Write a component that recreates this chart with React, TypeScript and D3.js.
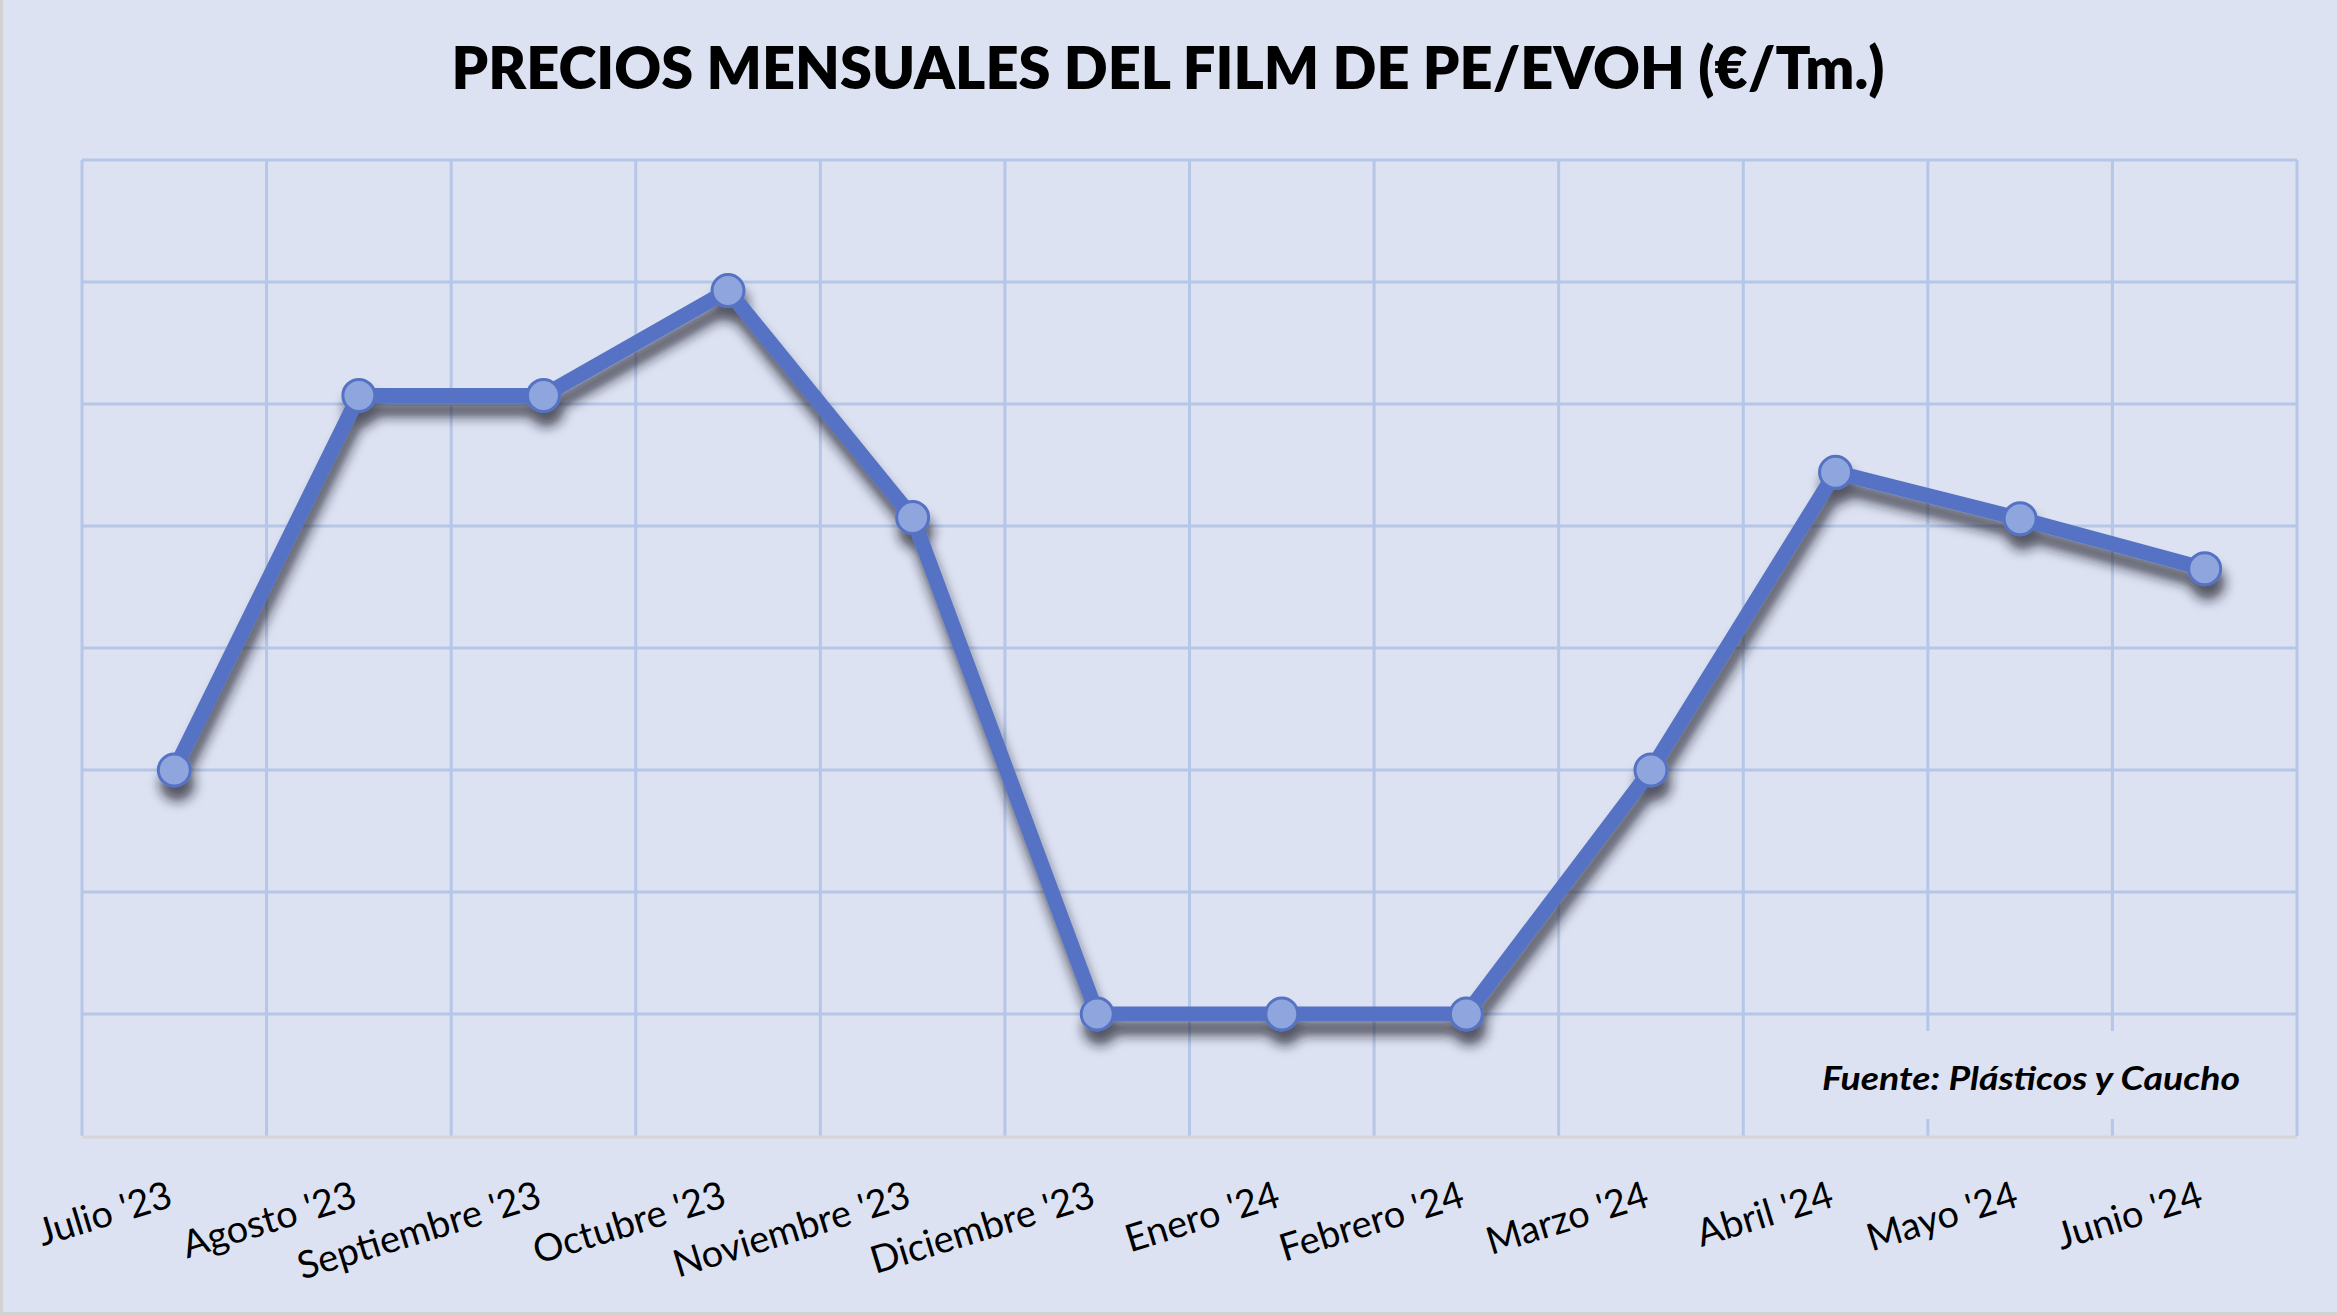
import React, { useEffect } from "react";
import * as d3 from "d3";

const categories = [
  "Julio '23", "Agosto '23", "Septiembre '23", "Octubre '23", "Noviembre '23", "Diciembre '23",
  "Enero '24", "Febrero '24", "Marzo '24", "Abril '24", "Mayo '24", "Junio '24",
];
const prices = [3.0, 6.07, 6.07, 6.93, 5.07, 1.0, 1.0, 1.0, 3.0, 5.44, 5.06, 4.65];
const yTicks = [1, 2, 3, 4, 5, 6, 7, 8];
const title = "PRECIOS MENSUALES DEL FILM DE PE/EVOH (€/Tm.)";
const source = "Fuente: Plásticos y Caucho";

const W = 2337;
const H = 1315;
const BG = "#dce2f2";
const GRID = "#b5c6e7";
const LINE = "#5572c4";
const MARK = "#8ea6dd";

export default function App() {
  useEffect(() => {
    document.body.style.margin = "0";
  }, []);

  const plot = { left: 82, right: 2297, top: 160, bottom: 1136 };
  const x = d3.scaleBand<string>().domain(categories).range([plot.left, plot.right]).padding(0);
  const y = d3.scaleLinear().domain([0, 8]).range([plot.bottom, plot.top]);
  const cx = (c: string) => (x(c) as number) + x.bandwidth() / 2;

  const line = d3
    .line<number>()
    .x((_, i) => cx(categories[i]))
    .y((d) => y(d));

  const vLines = categories.map((c) => x(c) as number).concat([plot.right]);

  return (
    <svg width={W} height={H} style={{ display: "block" }} xmlns="http://www.w3.org/2000/svg">
      <defs>
        <filter id="shadow" x="-20%" y="-20%" width="140%" height="140%">
          <feDropShadow dx="3" dy="14" stdDeviation="6" floodColor="#1a1d26" floodOpacity="0.7" />
        </filter>
      </defs>
      <rect x={0} y={0} width={W} height={H} fill={BG} />
      <line x1={1.5} y1={0} x2={1.5} y2={H} stroke="#d2d2d2" strokeWidth={3} />
      <line x1={0} y1={H - 1.5} x2={W} y2={H - 1.5} stroke="#d2d2d2" strokeWidth={3} />

      <text
        x={1168}
        y={89}
        textAnchor="middle"
        fontFamily="Lato, 'Open Sans', sans-serif"
        fontWeight={800}
        fontSize={58}
        fill="#000"
        textLength={1433}
        lengthAdjust="spacingAndGlyphs"
      >
        {title}
      </text>

      {/* grid */}
      {yTicks.map((t) => (
        <line key={"h" + t} x1={plot.left} x2={plot.right} y1={y(t)} y2={y(t)} stroke={GRID} strokeWidth={3} />
      ))}
      {vLines.map((vx, i) => (
        <line key={"v" + i} x1={vx} x2={vx} y1={plot.top} y2={plot.bottom} stroke={GRID} strokeWidth={3} />
      ))}
      <line x1={plot.left} x2={plot.right} y1={plot.bottom + 1} y2={plot.bottom + 1} stroke="#d6d6d6" strokeWidth={3} />

      {/* source box */}
      <rect x={1790} y={1031} width={500} height={88} fill={BG} />
      <text
        x={2240}
        y={1090}
        textAnchor="end"
        fontFamily="Lato, 'Open Sans', sans-serif"
        fontWeight={700}
        fontStyle="italic"
        fontSize={32}
        fill="#000"
        textLength={418}
        lengthAdjust="spacingAndGlyphs"
      >
        {source}
      </text>

      {/* series */}
      <g filter="url(#shadow)">
        <path d={line(prices) || ""} fill="none" stroke={LINE} strokeWidth={15} strokeLinejoin="round" strokeLinecap="round" />
        {prices.map((v, i) => (
          <circle key={i} cx={cx(categories[i])} cy={y(v)} r={16} fill={MARK} stroke={LINE} strokeWidth={3} />
        ))}
      </g>

      {/* x labels */}
      {categories.map((c) => (
        <text
          key={c}
          transform={`translate(${cx(c)},1206) rotate(-17)`}
          textAnchor="end"
          fontFamily="Lato, 'Open Sans', sans-serif"
          fontSize={38}
          fill="#000"
        >
          {c}
        </text>
      ))}
    </svg>
  );
}
